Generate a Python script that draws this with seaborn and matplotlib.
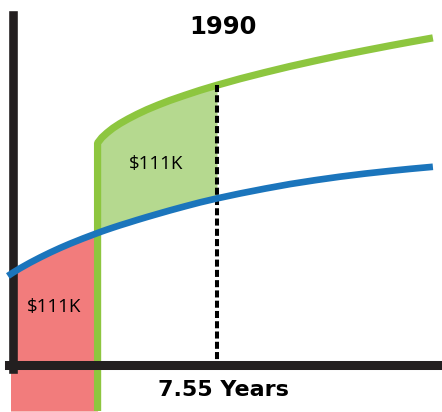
import numpy as np
import pandas as pd
import matplotlib
matplotlib.use("Agg")
import matplotlib.pyplot as plt
import seaborn as sns
from matplotlib.patches import Rectangle

# Income over time (thousands per year, arbitrary scale) for staying put vs. switching
years = [-0.19, 0.00, 0.26, 0.63, 1.00, 1.37, 1.74, 2.11, 2.59, 3.13, 3.29,
         3.48, 3.70, 3.96, 4.26, 4.59, 4.96, 5.37, 5.81, 6.37, 6.92, 7.55,
         8.40, 9.33, 10.25, 11.18, 12.10, 13.03, 13.95, 14.69, 15.54]
baseline_income = [8.85, 9.19, 9.62, 10.18, 10.70, 11.19, 11.65, 12.08, 12.60,
                   13.15, 13.31, 13.49, 13.69, 13.92, 14.17, 14.45, 14.75,
                   15.07, 15.41, 15.82, 16.21, 16.61, 17.10, 17.59, 18.04,
                   18.43, 18.78, 19.09, 19.36, 19.56, 19.77]
degree_income = [np.nan] * 9 + [22.15, 22.70, 23.17, 23.64, 24.10, 24.56, 25.02,
                                 25.49, 25.95, 26.41, 26.93, 27.42, 27.93, 28.57,
                                 29.21, 29.81, 30.37, 30.90, 31.40, 31.88, 32.25,
                                 32.66]
switch_year = 3.13
breakeven_year = 7.55
cost_label = "$111K"
gain_label = "$111K"
title_text = "1990"
xlabel_text = "7.55 Years"

BLUE = "#1b75bc"
GREEN = "#8dc63f"
LIGHT_GREEN = "#b5d98f"
RED = "#f27c7c"
INK = "#231f20"

sns.set_style("white")

df = pd.DataFrame({"year": years, "baseline": baseline_income, "degree": degree_income})
floor = -4.65

fig = plt.figure(figsize=(4.42, 4.12), dpi=100)
ax = fig.add_axes([0, 0, 1, 1])
ax.set_xlim(-0.481, 15.877)
ax.set_ylim(-4.75, 36.45)

# Cost region: under the baseline curve until the switch
red = ax.fill_between(df["year"], df["baseline"], floor,
                      where=df["year"] <= switch_year, color=RED, lw=0, zorder=1)
red.set_clip_path(Rectangle((-0.074, floor), switch_year + 0.074, 50,
                            transform=ax.transData))

# Gain region: between the two curves until break-even
ax.fill_between(df["year"], df["baseline"], df["degree"],
                where=(df["year"] >= switch_year) & (df["year"] <= breakeven_year),
                color=LIGHT_GREEN, lw=0, zorder=1)

# Degree path: drop at the switch, then the higher curve
after = df[df["year"] >= switch_year]
gx = [switch_year] + list(after["year"])
gy = [floor] + list(after["degree"])
sns.lineplot(x=gx, y=gy, sort=False, estimator=None, color=GREEN,
             linewidth=5.2, ax=ax, zorder=2)
ax.lines[-1].set_solid_joinstyle("bevel")
ax.lines[-1].set_solid_capstyle("butt")

# Break-even marker
top = degree_income[years.index(breakeven_year)]
ax.plot([breakeven_year, breakeven_year], [top, 0], color="black", lw=2.9,
        dashes=(1.75, 0.8), zorder=3, solid_capstyle="butt", dash_capstyle="butt")

# Baseline path
sns.lineplot(data=df, x="year", y="baseline", color=BLUE, linewidth=4.8,
             ax=ax, zorder=4)
ax.lines[-1].set_solid_capstyle("butt")
ax.lines[-1].set_solid_joinstyle("round")

# Axes drawn as heavy strokes crossing at the origin
for side in ("top", "right"):
    ax.spines[side].set_visible(False)
ax.spines["left"].set_position(("data", 0))
ax.spines["bottom"].set_position(("data", 0))
ax.spines["left"].set_bounds(-0.45, 34.95)
ax.spines["bottom"].set_bounds(-0.15, 15.877)
ax.spines["left"].set_linewidth(6.2)
ax.spines["bottom"].set_linewidth(6.5)
for s in ("left", "bottom"):
    ax.spines[s].set_color(INK)
    ax.spines[s].set_zorder(3)
ax.set_xticks([])
ax.set_yticks([])
ax.set_xlabel("")
ax.set_ylabel("")

W, H = 442, 412
fig.text(223 / W, 1 - 27 / H, title_text, ha="center", va="center",
         fontsize=17.5, fontweight="bold", family="DejaVu Sans", color="black")
fig.text(223 / W, 1 - 390 / H, xlabel_text, ha="center", va="center",
         fontsize=16, fontweight="bold", family="DejaVu Sans", color="black")
fig.text(156.5 / W, 1 - 164 / H, gain_label, ha="center", va="center",
         fontsize=13.5, family="Open Sans", color="black")
fig.text(54.5 / W, 1 - 307 / H, cost_label, ha="center", va="center",
         fontsize=13.5, family="Open Sans", color="black")

fig.savefig("out.png", dpi=100, facecolor="white")
